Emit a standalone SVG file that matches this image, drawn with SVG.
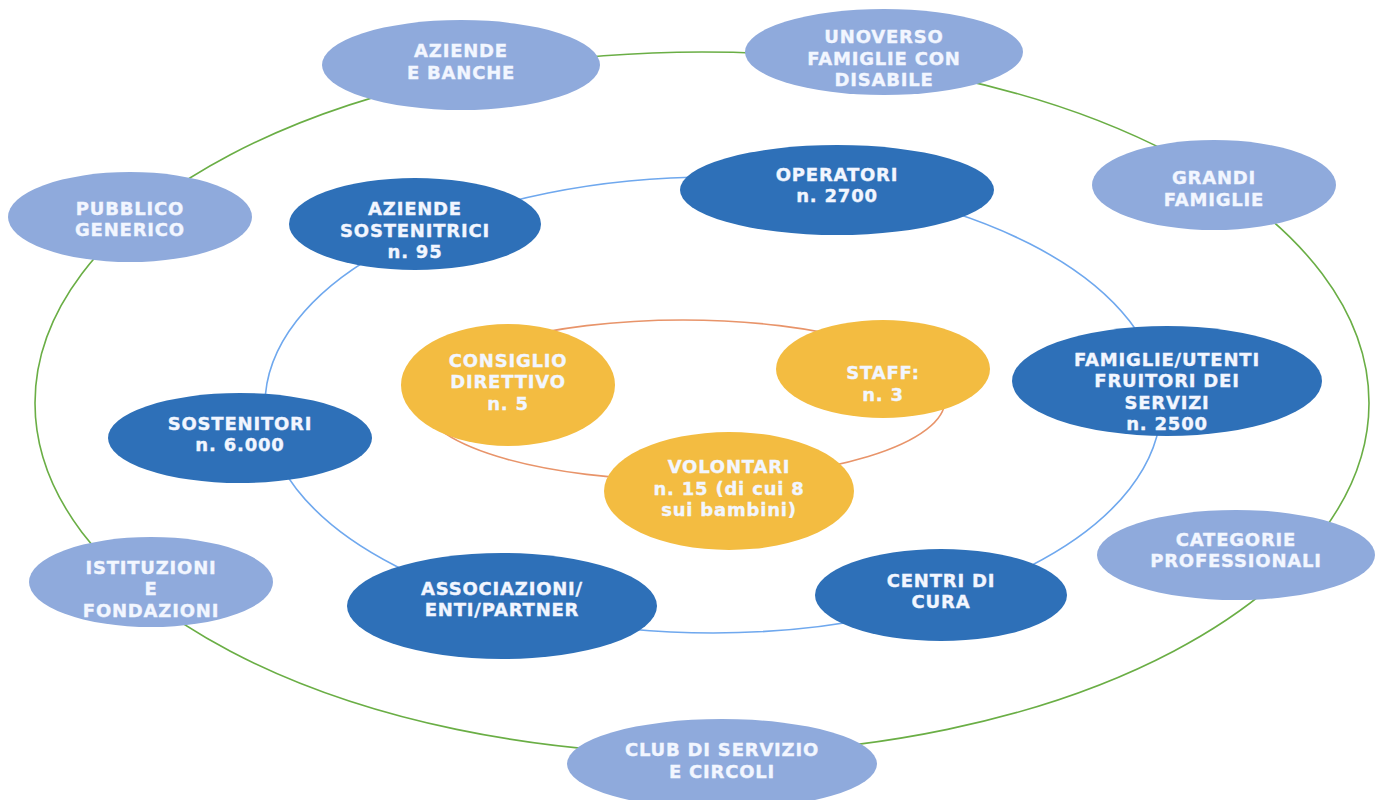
<svg xmlns="http://www.w3.org/2000/svg" width="1382" height="800" viewBox="0 0 1382 800">
<style>
.outer{fill:#8FAADC}
.mid{fill:#2E70B8}
.inner{fill:#F3BC41}
text{font-family:"DejaVu Sans","Verdana",sans-serif;font-weight:bold;font-size:18px;letter-spacing:0.8px;fill:#F2F6FF;stroke:#F2F6FF;stroke-width:0.35;text-anchor:middle}
.ring{fill:none;stroke-width:1.6}
</style>
<rect width="1382" height="800" fill="#FFFFFF"/>
<g id="connectors">
<ellipse class="ring" cx="702" cy="403" rx="667" ry="351" stroke="#6AAE45"/>
<ellipse class="ring" cx="713" cy="405" rx="448" ry="228" stroke="#6FA8EE"/>
<ellipse class="ring" cx="683" cy="400" rx="262" ry="80" stroke="#E8946A"/>
</g>
<g id="aziende-banche"><ellipse class="outer" cx="461" cy="65" rx="139" ry="45"/><text x="461" y="57">AZIENDE</text><text x="461" y="78.5">E BANCHE</text></g>
<g id="unoverso"><ellipse class="outer" cx="884" cy="52" rx="139" ry="43"/><text x="884" y="43">UNOVERSO</text><text x="884" y="64.5">FAMIGLIE CON</text><text x="884" y="86">DISABILE</text></g>
<g id="grandi-famiglie"><ellipse class="outer" cx="1214" cy="185" rx="122" ry="45"/><text x="1214" y="184">GRANDI</text><text x="1214" y="205.5">FAMIGLIE</text></g>
<g id="pubblico-generico"><ellipse class="outer" cx="130" cy="217" rx="122" ry="45"/><text x="130" y="214.5">PUBBLICO</text><text x="130" y="236">GENERICO</text></g>
<g id="categorie-professionali"><ellipse class="outer" cx="1236" cy="555" rx="139" ry="45"/><text x="1236" y="545.5">CATEGORIE</text><text x="1236" y="567">PROFESSIONALI</text></g>
<g id="istituzioni-fondazioni"><ellipse class="outer" cx="151" cy="582" rx="122" ry="45"/><text x="151" y="573.5">ISTITUZIONI</text><text x="151" y="595">E</text><text x="151" y="616.5">FONDAZIONI</text></g>
<g id="club-servizio"><ellipse class="outer" cx="722" cy="764" rx="155" ry="45"/><text x="722" y="756">CLUB DI SERVIZIO</text><text x="722" y="777.5">E CIRCOLI</text></g>
<g id="aziende-sostenitrici"><ellipse class="mid" cx="415" cy="224" rx="126" ry="46"/><text x="415" y="215">AZIENDE</text><text x="415" y="236.5">SOSTENITRICI</text><text x="415" y="258">n. 95</text></g>
<g id="operatori"><ellipse class="mid" cx="837" cy="190" rx="157" ry="45"/><text x="837" y="180.5">OPERATORI</text><text x="837" y="202">n. 2700</text></g>
<g id="famiglie-utenti"><ellipse class="mid" cx="1167" cy="381" rx="155" ry="55"/><text x="1167" y="365.5">FAMIGLIE/UTENTI</text><text x="1167" y="387">FRUITORI DEI</text><text x="1167" y="408.5">SERVIZI</text><text x="1167" y="430">n. 2500</text></g>
<g id="sostenitori"><ellipse class="mid" cx="240" cy="438" rx="132" ry="45"/><text x="240" y="429.5">SOSTENITORI</text><text x="240" y="451">n. 6.000</text></g>
<g id="associazioni"><ellipse class="mid" cx="502" cy="606" rx="155" ry="53"/><text x="502" y="594.5">ASSOCIAZIONI/</text><text x="502" y="616">ENTI/PARTNER</text></g>
<g id="centri-cura"><ellipse class="mid" cx="941" cy="595" rx="126" ry="46"/><text x="941" y="586.5">CENTRI DI</text><text x="941" y="608">CURA</text></g>
<g id="consiglio-direttivo"><ellipse class="inner" cx="508" cy="385" rx="107" ry="61"/><text x="508" y="366.5">CONSIGLIO</text><text x="508" y="388">DIRETTIVO</text><text x="508" y="409.5">n. 5</text></g>
<g id="staff"><ellipse class="inner" cx="883" cy="369" rx="107" ry="49"/><text x="883" y="379">STAFF:</text><text x="883" y="400.5">n. 3</text></g>
<g id="volontari"><ellipse class="inner" cx="729" cy="491" rx="125" ry="59"/><text x="729" y="473">VOLONTARI</text><text x="729" y="494.5">n. 15 (di cui 8</text><text x="729" y="516">sui bambini)</text></g>
</svg>
